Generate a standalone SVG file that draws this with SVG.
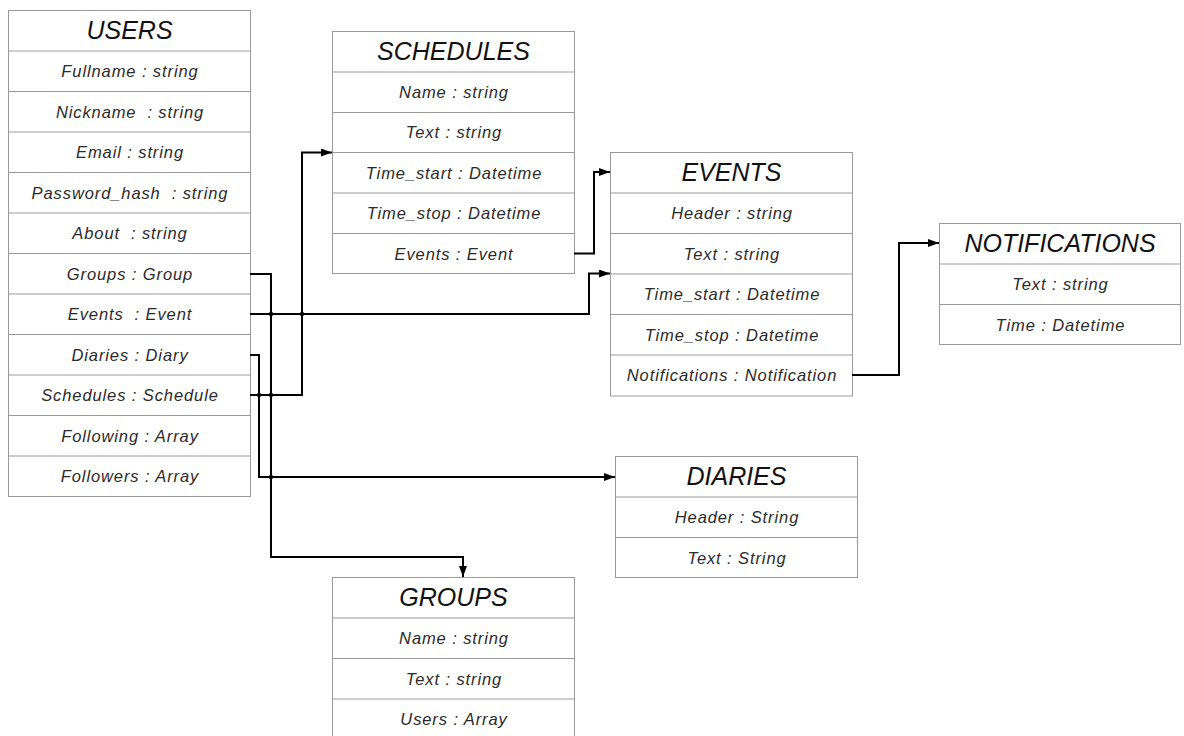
<svg xmlns="http://www.w3.org/2000/svg" width="1184" height="736" viewBox="0 0 1184 736">
<defs>
<style>
.box{fill:#fff;stroke:#9a9a9a;stroke-width:1}
.div{stroke:#9a9a9a;stroke-width:1}
.t{font-family:"Liberation Sans",Arial,sans-serif;font-style:italic;font-size:25px;fill:#111;text-anchor:middle}
.f{font-family:"Liberation Sans",Arial,sans-serif;font-style:italic;font-size:16.5px;letter-spacing:0.9px;fill:#2a2a2a;text-anchor:middle;white-space:pre}
.c{fill:none;stroke:#000;stroke-width:2}
.dot{fill:#000}
</style>
<marker id="arr" markerUnits="userSpaceOnUse" markerWidth="11" markerHeight="8" refX="11" refY="4" orient="auto">
<path d="M0,0 L11,4 L0,8 z" fill="#000"/>
</marker>
</defs>
<rect width="1184" height="736" fill="#fff"/>

<g id="users">
<rect class="box" x="8.5" y="10.5" width="242" height="486"/>
<path class="div" d="M8.5,51H250.5M8.5,91.5H250.5M8.5,132H250.5M8.5,172.5H250.5M8.5,213H250.5M8.5,253.5H250.5M8.5,294H250.5M8.5,334.5H250.5M8.5,375H250.5M8.5,415.5H250.5M8.5,456H250.5"/>
<text class="t" x="129.5" y="39">USERS</text>
<text class="f" x="130" y="77">Fullname : string</text>
<text class="f" x="130" y="117.5">Nickname  : string</text>
<text class="f" x="130" y="158">Email : string</text>
<text class="f" x="130" y="198.5">Password_hash  : string</text>
<text class="f" x="130" y="239">About  : string</text>
<text class="f" x="130" y="279.5">Groups : Group</text>
<text class="f" x="130" y="320">Events  : Event</text>
<text class="f" x="130" y="360.5">Diaries : Diary</text>
<text class="f" x="130" y="401">Schedules : Schedule</text>
<text class="f" x="130" y="441.5">Following : Array</text>
<text class="f" x="130" y="482">Followers : Array</text>
</g>

<g id="schedules">
<rect class="box" x="332.5" y="31.5" width="242" height="242"/>
<path class="div" d="M332.5,72H574.5M332.5,112.5H574.5M332.5,152.5H574.5M332.5,193H574.5M332.5,233.5H574.5"/>
<text class="t" x="453.5" y="60">SCHEDULES</text>
<text class="f" x="454" y="98">Name : string</text>
<text class="f" x="454" y="138">Text : string</text>
<text class="f" x="454" y="178.5">Time_start : Datetime</text>
<text class="f" x="454" y="219">Time_stop : Datetime</text>
<text class="f" x="454" y="259.5">Events : Event</text>
</g>

<g id="events">
<rect class="box" x="610.5" y="152.5" width="242" height="243.5"/>
<path class="div" d="M610.5,193H852.5M610.5,233.5H852.5M610.5,274H852.5M610.5,314.5H852.5M610.5,355H852.5"/>
<text class="t" x="731.5" y="181">EVENTS</text>
<text class="f" x="732" y="219">Header : string</text>
<text class="f" x="732" y="259.5">Text : string</text>
<text class="f" x="732" y="300">Time_start : Datetime</text>
<text class="f" x="732" y="340.5">Time_stop : Datetime</text>
<text class="f" x="732" y="381">Notifications : Notification</text>
</g>

<g id="notifications">
<rect class="box" x="939.5" y="223.5" width="241" height="121"/>
<path class="div" d="M939.5,264H1180.5M939.5,304.5H1180.5"/>
<text class="t" x="1060" y="252">NOTIFICATIONS</text>
<text class="f" x="1060.5" y="290">Text : string</text>
<text class="f" x="1060.5" y="330.5">Time : Datetime</text>
</g>

<g id="diaries">
<rect class="box" x="615.5" y="456.5" width="242" height="121"/>
<path class="div" d="M615.5,497H857.5M615.5,537.5H857.5"/>
<text class="t" x="736.5" y="485">DIARIES</text>
<text class="f" x="737" y="523">Header : String</text>
<text class="f" x="737" y="563.5">Text : String</text>
</g>

<g id="groups">
<rect class="box" x="332.5" y="577.5" width="242" height="162"/>
<path class="div" d="M332.5,618H574.5M332.5,658.5H574.5M332.5,699H574.5"/>
<text class="t" x="453.5" y="606">GROUPS</text>
<text class="f" x="454" y="644">Name : string</text>
<text class="f" x="454" y="684.5">Text : string</text>
<text class="f" x="454" y="725">Users : Array</text>
</g>

<g id="connectors">
<path class="c" d="M250,274H271V557H463V577" marker-end="url(#arr)"/>
<path class="c" d="M250,314H589V273.5H610" marker-end="url(#arr)"/>
<path class="c" d="M250,355H259V477H615" marker-end="url(#arr)"/>
<path class="c" d="M250,395H302V152.5H332" marker-end="url(#arr)"/>
<path class="c" d="M574,253.5H594V172H610" marker-end="url(#arr)"/>
<path class="c" d="M852,375H899V243H939" marker-end="url(#arr)"/>
<circle class="dot" cx="271" cy="314" r="2.2"/>
<circle class="dot" cx="302" cy="314" r="2.2"/>
<circle class="dot" cx="259" cy="395" r="2.2"/>
<circle class="dot" cx="271" cy="395" r="2.2"/>
<circle class="dot" cx="271" cy="477" r="2.2"/>
</g>
</svg>
